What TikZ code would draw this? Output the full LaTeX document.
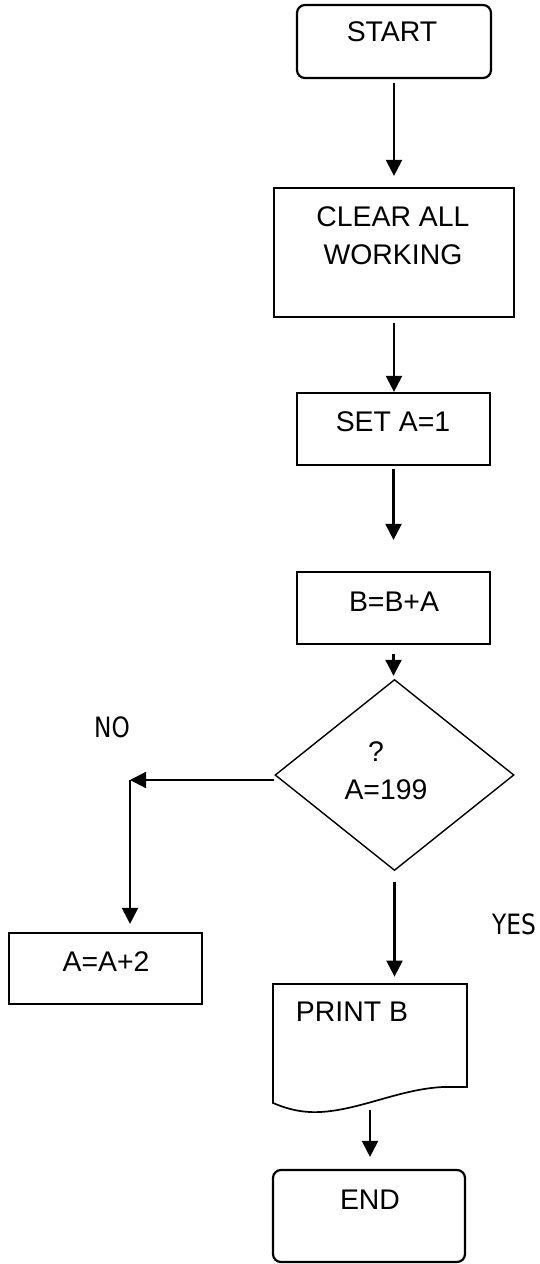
\documentclass[tikz,border=0pt]{standalone}
\usepackage{fontspec}
\setmainfont{Liberation Sans}
\newfontfamily\labfont[FakeStretch=0.83]{DejaVu Sans}
\usetikzlibrary{arrows.meta,shapes.geometric}
\begin{document}
\begin{tikzpicture}[x=0.5pt,y=-0.5pt,
  boxs/.style={draw, line width=1.1pt, inner sep=0pt, rectangle},
  termbox/.style={boxs, rounded corners=4pt},
  txt/.style={inner sep=0pt, font=\fontsize{14.2}{16}\selectfont},
  lab/.style={inner sep=0pt, font=\labfont\fontsize{14}{16}\selectfont},
  arr/.style={line width=1.1pt, -{Triangle[width=8pt,length=8pt]}}]
\useasboundingbox (0,0) rectangle (540,1264);

\node[termbox, minimum width=97pt, minimum height=36.5pt] (start) at (394,41.5) {};
\node[txt] (startT) at (392,32) {START};

\node[boxs, minimum width=120pt, minimum height=64.5pt] (clear) at (394,252.5) {};
\node[txt] (clearT1) at (393,217) {CLEAR ALL};
\node[txt] (clearT2) at (393,255) {WORKING};

\node[boxs, minimum width=96.5pt, minimum height=36pt] (seta) at (393.5,429) {};
\node[txt] (setaT) at (393,422) {SET A=1};

\node[boxs, minimum width=96.5pt, minimum height=36pt] (bba) at (393.5,608) {};
\node[txt] (bbaT) at (394,602) {B=B+A};

\node[draw, diamond, line width=0.7pt, minimum width=119.5pt, minimum height=95.5pt, inner sep=0pt] (dia) at (394.5,775) {};
\node[txt] (diaT1) at (376,752) {?};
\node[txt] (diaT2) at (386,790) {A=199};

\node[boxs, minimum width=96.5pt, minimum height=35.5pt] (aa) at (105.5,968.5) {};
\node[txt] (aaT) at (106,961.5) {A=A+2};

\node[inner sep=0pt, minimum width=97pt, minimum height=64pt] (print) at (370,1048) {};
\draw[line width=0.85pt] (443,1087) .. controls (400,1089) and (360,1110) .. (320,1112)
  .. controls (300,1113) and (285,1108) .. (273,1103) -- (273,984) -- (467,984) -- (467,1087) -- cycle;
\node[txt] (printT) at (352,1012) {PRINT B};

\node[termbox, minimum width=96pt, minimum height=46pt] (end) at (369,1216) {};
\node[txt] (endT) at (370,1200) {END};

\node[lab] (no) at (112,727) {NO};
\node[lab] (yes) at (514,924) {YES};

\draw[arr, shorten <=2pt, shorten >=5.5pt] (start.south) -- (clear.north);
\draw[arr, shorten <=2.5pt] (clear.south) -- (clear.south |- seta.north);
\draw[arr, shorten <=1.5pt, shorten >=15.5pt] (seta.south) -- (bba.north);
\draw[arr, shorten <=4.5pt, shorten >=1.5pt] (bba.south) -- (bba.south |- dia.north);
\coordinate (nocorner) at (130,780);
\draw[arr] (dia.west |- nocorner) -- (nocorner);
\draw[arr, shorten >=4pt] (nocorner) -- (nocorner |- aa.north);
\draw[arr, shorten <=5.5pt, shorten >=3.5pt] (dia.south) -- (dia.south |- print.north);
\coordinate (pb) at (370,1110);
\draw[arr, shorten >=6pt] (pb) -- (pb |- end.north);
\end{tikzpicture}
\end{document}
